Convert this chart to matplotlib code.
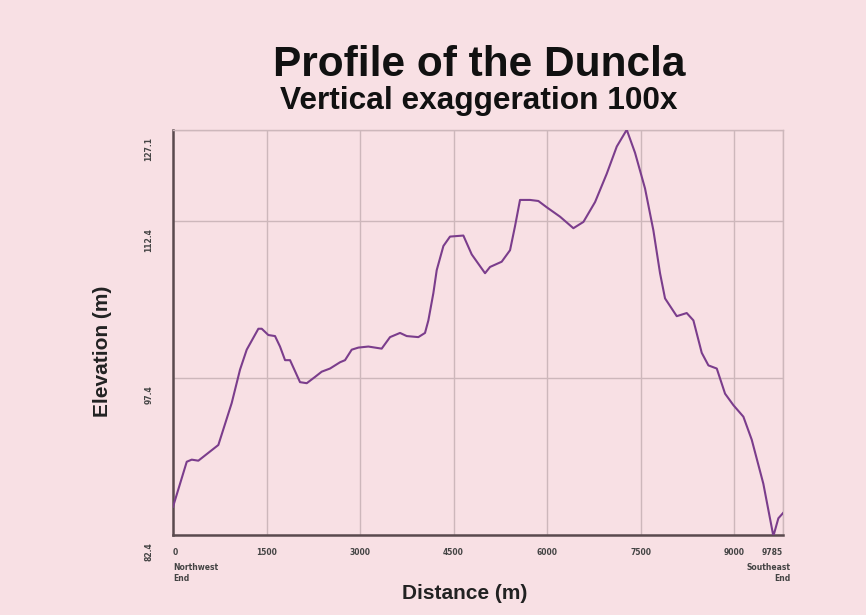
import matplotlib.pyplot as plt
import matplotlib.transforms as mtransforms

# distance along the profile (m) and elevation
distance = [0, 220, 300, 406, 513, 727, 941, 1075, 1182, 1369, 1423, 1529, 1636, 1716,
            1797, 1877, 2037, 2145, 2278, 2385, 2518, 2679, 2759, 2866, 2973, 3133, 3347,
            3481, 3641, 3749, 3935, 4042, 4096, 4176, 4230, 4337, 4443, 4657, 4791, 5005,
            5085, 5272, 5406, 5486, 5566, 5727, 5860, 5994, 6208, 6422, 6583, 6770, 6957,
            7118, 7278, 7411, 7571, 7705, 7812, 7892, 8080, 8240, 8347, 8481, 8588, 8722,
            8855, 8989, 9149, 9283, 9469, 9630, 9710, 9785]
elevation = [85.1, 89.4, 89.6, 89.5, 90.0, 91.0, 95.0, 98.2, 100.1, 102.1, 102.1, 101.5,
             101.4, 100.4, 99.1, 99.1, 97.0, 96.9, 97.5, 98.0, 98.3, 98.9, 99.1, 100.1,
             100.3, 100.4, 100.2, 101.3, 101.7, 101.4, 101.3, 101.7, 102.9, 105.5, 107.7,
             110.0, 110.9, 111.0, 109.2, 107.4, 108.0, 108.5, 109.6, 111.9, 114.4, 114.4,
             114.3, 113.7, 112.8, 111.7, 112.3, 114.2, 116.9, 119.5, 121.1, 118.9, 115.5,
             111.5, 107.4, 105.0, 103.3, 103.6, 102.9, 99.8, 98.6, 98.3, 95.9, 94.8, 93.7,
             91.5, 87.3, 82.3, 84.0, 84.5]

x_ticks = [0, 1500, 3000, 4500, 6000, 7500, 9000, 9785]
x_tick_labels = ['0', '1500', '3000', '4500', '6000', '7500', '9000', '9785']
y_ticks = [82.4, 97.4, 112.4, 121.1]
y_tick_labels = ['82.4', '97.4', '112.4', '127.1']

bg = '#f8e0e4'
line_color = '#7b3d8c'
grid_color = '#cdb7bb'

fig = plt.figure(figsize=(8.66, 6.15), dpi=100, facecolor=bg)
ax = fig.add_axes([0.1998, 0.130, 0.7044, 0.659], facecolor=bg)

ax.plot(distance, elevation, color=line_color, linewidth=1.5, zorder=3)

ax.set_xlim(0, 9785)
ax.set_ylim(82.4, 121.1)

ax.set_xticks(x_ticks)
ax.set_xticklabels(x_tick_labels, fontsize=5.5, fontweight='bold', color='#444444')
ax.set_yticks(y_ticks)
ax.set_yticklabels(y_tick_labels, fontsize=5.5, fontweight='bold', color='#444444',
                   rotation=90, va='top')
ax.tick_params(axis='both', length=0)
ax.tick_params(axis='x', pad=9)
ax.tick_params(axis='y', pad=14)

# push y labels a little below their gridlines
offset = mtransforms.ScaledTranslation(0, -7 / 100, fig.dpi_scale_trans)
for lab in ax.get_yticklabels():
    lab.set_transform(lab.get_transform() + offset)
xlabs = ax.get_xticklabels()
xlabs[0].set_ha('left')
xlabs[-1].set_ha('right')

ax.grid(True, color=grid_color, linewidth=1.0, zorder=1)
for side in ['top', 'right']:
    ax.spines[side].set_color(grid_color)
    ax.spines[side].set_linewidth(1.0)
for side in ['left', 'bottom']:
    ax.spines[side].set_color('#5a4a4e')
    ax.spines[side].set_linewidth(1.8)

ax.text(0, -0.068, 'Northwest\nEnd', transform=ax.transAxes, ha='left', va='top',
        fontsize=5.5, fontweight='bold', color='#444444', linespacing=1.3)
ax.text(1.012, -0.068, 'Southeast\nEnd', transform=ax.transAxes, ha='right', va='top',
        fontsize=5.5, fontweight='bold', color='#444444', linespacing=1.3,
        multialignment='right')

fig.text(0.553, 0.895, 'Profile of the Duncla', ha='center', va='center',
         fontsize=30.5, fontweight='bold', family='Liberation Sans', color='#111111')
fig.text(0.553, 0.835, 'Vertical exaggeration 100x', ha='center', va='center',
         fontsize=22.8, fontweight='bold', family='Liberation Sans', color='#111111')
fig.text(0.537, 0.035, 'Distance (m)', ha='center', va='center',
         fontsize=15, fontweight='bold', family='Liberation Sans', color='#222222')
fig.text(0.118, 0.428, 'Elevation (m)', ha='center', va='center', rotation=90,
         fontsize=15, fontweight='bold', family='Liberation Sans', color='#222222')

plt.savefig('out.png', dpi=100, facecolor=bg)
